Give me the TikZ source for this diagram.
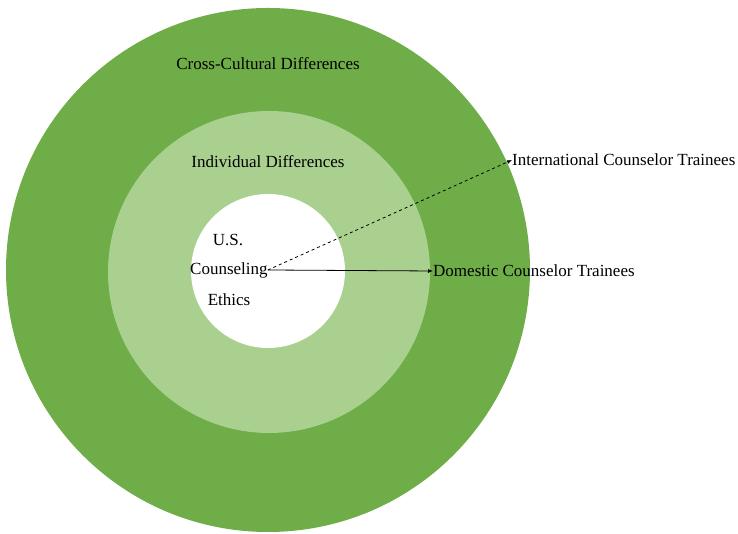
\documentclass[tikz,border=0pt]{standalone}
\usepackage{fontspec}
\setmainfont{Liberation Serif}
\usetikzlibrary{arrows.meta}
\definecolor{outergreen}{HTML}{6EAD47}
\definecolor{innergreen}{HTML}{A9D08E}
\begin{document}
\begin{tikzpicture}[x=1pt,y=1pt,
  lbl/.style={font=\fontsize{17}{19}\selectfont, inner sep=0pt},
  arr/.style={-{Latex[length=5pt,width=4pt]}, line width=0.8pt, black}]
\useasboundingbox (0,0) rectangle (738,534);
\fill[outergreen] (268,264) circle (262);
\fill[innergreen] (269,262) circle (161);
\fill[white] (268,263) circle (77);
\node[lbl] (cc) at (268,470) {Cross-Cultural Differences};
\node[lbl] (id) at (268,372) {Individual Differences};
\node[lbl] (us) at (228,294) {U.S.};
\node[lbl, anchor=west] (co) at (190,264) {Counseling};
\node[lbl] (et) at (229,234) {Ethics};
\node[lbl, anchor=west] (it) at (512,374) {International Counselor Trainees};
\node[lbl, anchor=west] (dt) at (433,263) {Domestic Counselor Trainees};
\draw[arr] (co.east) -- (dt.west);
\draw[arr, dashed] (co.east) -- (it.west);
\end{tikzpicture}
\end{document}
